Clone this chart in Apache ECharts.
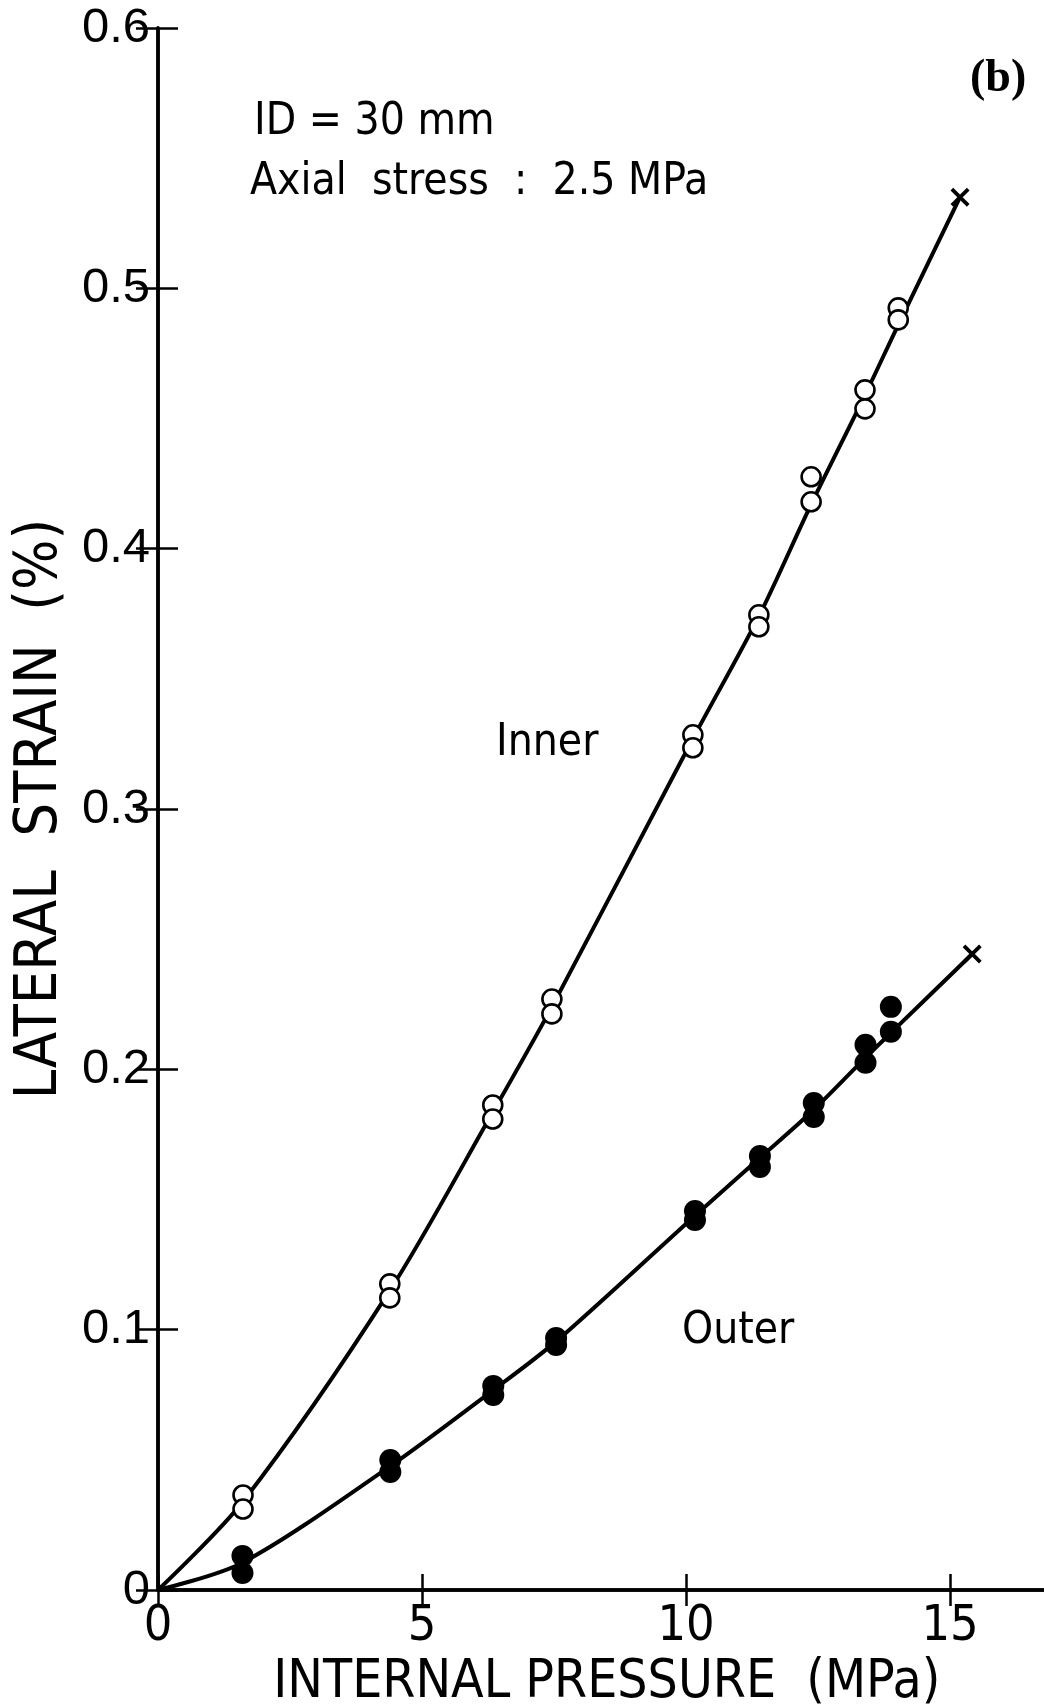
<!DOCTYPE html>
<html>
<head>
<meta charset="utf-8">
<script src="https://cdn.jsdelivr.net/npm/echarts@6/dist/echarts.min.js"></script>
<style>
  html, body { margin: 0; padding: 0; background: #fff; }
  #chart { width: 1044px; height: 1704px; }
</style>
</head>
<body>
<div id="chart"></div>
<script>
// Lateral strain vs. internal pressure (ID = 30 mm, axial stress 2.5 MPa)

const pressureTicks = [0, 5, 10, 15];
const strainTicks = [0, 0.1, 0.2, 0.3, 0.4, 0.5, 0.6];

// Two gauge readings per load step, inner surface (open circles)
const innerPressure = [1.61, 4.39, 6.34, 7.46, 10.13, 11.38, 12.37, 13.39, 14.02];
const innerStrainA  = [0.0365, 0.1176, 0.1863, 0.2270, 0.3285, 0.3746, 0.4276, 0.4610, 0.4925];
const innerStrainB  = [0.0311, 0.1122, 0.1809, 0.2213, 0.3235, 0.3700, 0.4180, 0.4537, 0.4879];

// Two gauge readings per load step, outer surface (filled circles)
const outerPressure = [1.60, 4.40, 6.35, 7.54, 10.17, 11.40, 12.42, 13.40, 13.88];
const outerStrainA  = [0.0131, 0.0499, 0.0784, 0.0968, 0.1456, 0.1667, 0.1871, 0.2094, 0.2240];
const outerStrainB  = [0.0065, 0.0453, 0.0749, 0.0941, 0.1421, 0.1625, 0.1817, 0.2025, 0.2144];

// Fitted curves through the data, ending at the burst point
const innerCurveP = [0, 1.61, 4.39, 6.34, 7.46, 10.13, 11.38, 12.37, 13.39, 14.02, 15.19];
const innerCurveS = [0, 0.034, 0.115, 0.1835, 0.224, 0.327, 0.374, 0.417, 0.459, 0.486, 0.535];
const outerCurveP = [0, 1.60, 4.40, 6.35, 7.54, 10.17, 11.40, 12.42, 13.40, 13.88, 15.42];
const outerCurveS = [0, 0.0105, 0.0476, 0.0768, 0.0955, 0.1438, 0.1660, 0.1845, 0.2045, 0.2140, 0.2443];

// Burst points (marked with a cross)
const burstPressure = [15.19, 15.42];
const burstStrain   = [0.535, 0.2443];

const zip = (xs, ys) => xs.map((x, i) => [x, ys[i]]);

const narrow = "'Liberation Sans Narrow', 'DejaVu Sans Condensed', 'Liberation Sans', sans-serif";
const plain  = "'Liberation Sans', Arial, sans-serif";
const black  = '#000';

const axisLine = { show: true, lineStyle: { color: black, width: 3.5 } };
const tickStyle = { color: black, width: 2.5 };

const crossPath = 'path://M0,1.4L1.4,0L10,8.6L8.6,10Z M8.6,0L10,1.4L1.4,10L0,8.6Z';

const chart = echarts.init(document.getElementById('chart'), null, { renderer: 'canvas' });

chart.setOption({
  backgroundColor: '#fff',
  animation: false,
  grid: {
    left: 158, top: 28, width: 897.6, height: 1562,
    containLabel: false, outerBoundsMode: 'none'
  },
  xAxis: [
    {
      type: 'value', position: 'bottom', min: 0, max: 17, interval: 5,
      axisLine: axisLine,
      axisTick: { show: true, inside: true, length: 16, lineStyle: tickStyle },
      axisLabel: {
        show: true, margin: 12, color: black, fontSize: 50, fontFamily: narrow,
        showMaxLabel: false,
        formatter: v => (pressureTicks.includes(v) ? String(v) : '')
      },
      splitLine: { show: false },
      name: 'INTERNAL PRESSURE  (MPa)', nameLocation: 'middle', nameGap: 56,
      nameTextStyle: { color: black, fontSize: 53, fontFamily: narrow }
    },
    {
      type: 'value', position: 'top', min: 0, max: 17, interval: 5,
      axisLine: axisLine,
      axisTick: { show: true, inside: true, length: 16, lineStyle: tickStyle },
      axisLabel: { show: false },
      splitLine: { show: false }
    }
  ],
  yAxis: [
    {
      type: 'value', position: 'left', min: 0, max: 0.6, interval: 0.1,
      axisLine: axisLine,
      axisTick: { show: true, inside: true, length: 20, lineStyle: tickStyle },
      axisLabel: {
        show: true, margin: 8, color: black, fontSize: 49, fontFamily: plain,
        formatter: v => {
          const t = strainTicks.find(s => Math.abs(s - v) < 1e-9);
          return t === undefined ? '' : (t === 0 ? '0' : t.toFixed(1));
        }
      },
      splitLine: { show: false },
      name: 'LATERAL  STRAIN  (%)', nameLocation: 'middle', nameGap: 88, nameRotate: 90,
      nameTextStyle: { color: black, fontSize: 59, fontFamily: narrow }
    },
    {
      type: 'value', position: 'right', min: 0, max: 0.6, interval: 0.1,
      axisLine: axisLine,
      axisTick: { show: true, inside: true, length: 22, lineStyle: tickStyle },
      axisLabel: { show: false },
      splitLine: { show: false }
    }
  ],
  series: [
    {
      name: 'Inner fit', type: 'line', data: zip(innerCurveP, innerCurveS),
      smooth: 0.3, showSymbol: false, symbol: 'none',
      lineStyle: { color: black, width: 4 }, z: 2
    },
    {
      name: 'Outer fit', type: 'line', data: zip(outerCurveP, outerCurveS),
      smooth: 0.3, showSymbol: false, symbol: 'none',
      lineStyle: { color: black, width: 4 }, z: 2
    },
    {
      name: 'Inner A', type: 'scatter', data: zip(innerPressure, innerStrainA),
      symbol: 'circle', symbolSize: 19,
      itemStyle: { color: '#fff', borderColor: black, borderWidth: 2.6, opacity: 1 }, z: 3
    },
    {
      name: 'Inner B', type: 'scatter', data: zip(innerPressure, innerStrainB),
      symbol: 'circle', symbolSize: 19,
      itemStyle: { color: '#fff', borderColor: black, borderWidth: 2.6, opacity: 1 }, z: 4
    },
    {
      name: 'Outer A', type: 'scatter', data: zip(outerPressure, outerStrainA),
      symbol: 'circle', symbolSize: 22,
      itemStyle: { color: black, opacity: 1 }, z: 3
    },
    {
      name: 'Outer B', type: 'scatter', data: zip(outerPressure, outerStrainB),
      symbol: 'circle', symbolSize: 22,
      itemStyle: { color: black, opacity: 1 }, z: 3
    },
    {
      name: 'Burst', type: 'scatter', data: zip(burstPressure, burstStrain),
      symbol: crossPath, symbolSize: 19,
      itemStyle: { color: black, opacity: 1 }, z: 5
    }
  ],
  graphic: [
    { type: 'text', left: 254, top: 101,
      style: { text: 'ID = 30 mm', fill: black, font: `44px ${narrow}` } },
    { type: 'text', left: 250, top: 161,
      style: { text: 'Axial  stress  :  2.5 MPa', fill: black, font: `44px ${narrow}` } },
    { type: 'text', left: 970, top: 56,
      style: { text: '(b)', fill: black, font: `bold 46px 'Liberation Serif', serif` } },
    { type: 'text', left: 496, top: 722,
      style: { text: 'Inner', fill: black, font: `44px ${narrow}` } },
    { type: 'text', left: 682, top: 1310,
      style: { text: 'Outer', fill: black, font: `44px ${narrow}` } }
  ]
});
</script>
</body>
</html>
